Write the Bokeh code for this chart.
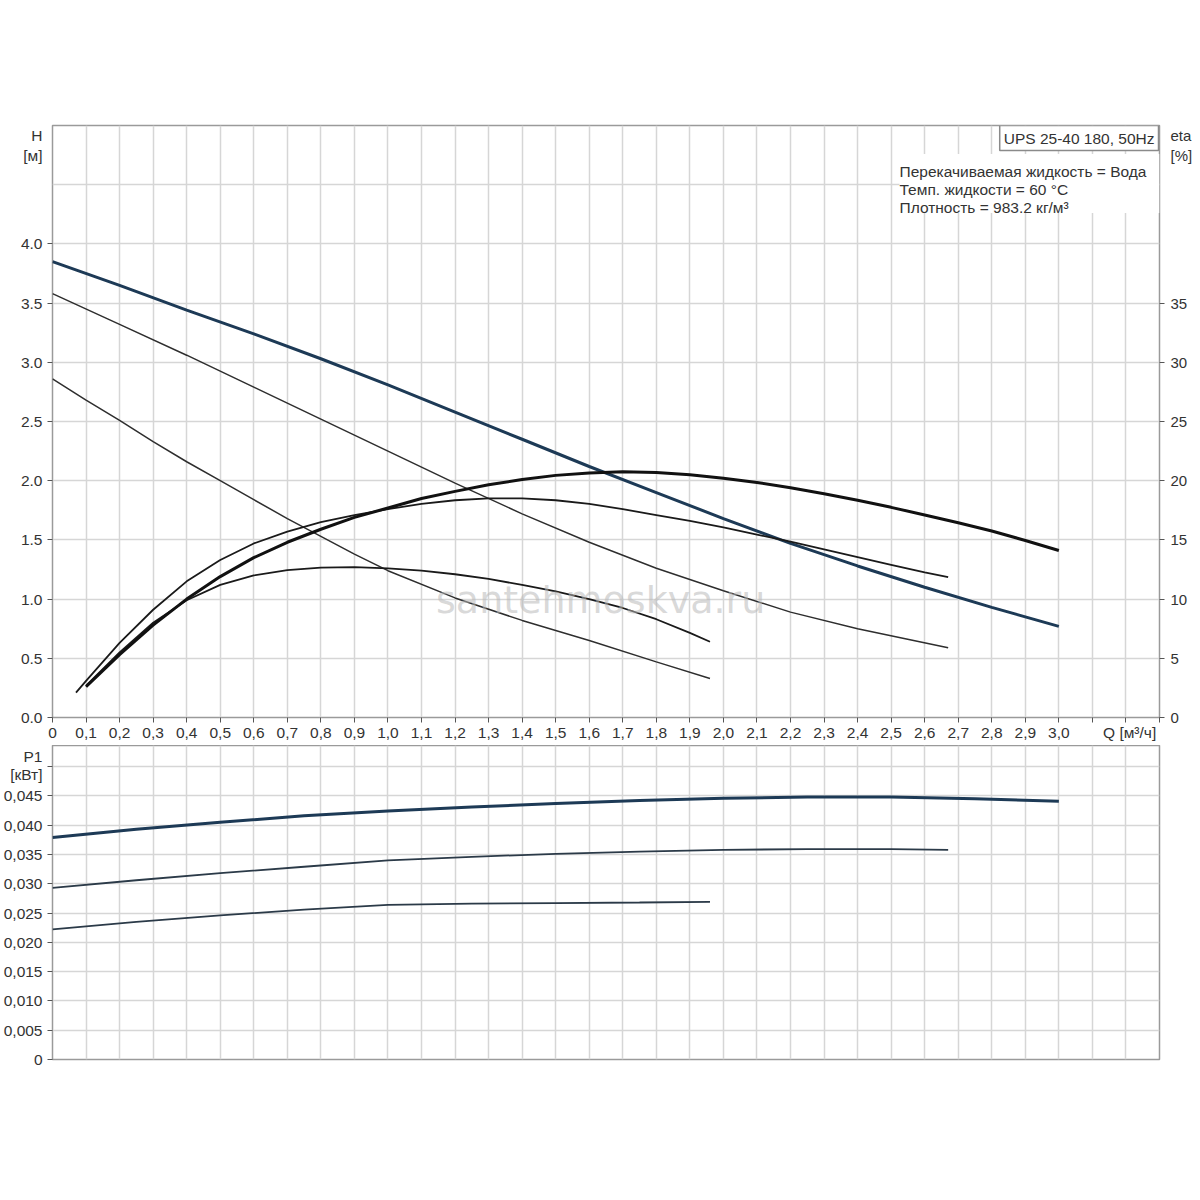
from bokeh.plotting import figure
from bokeh.models import (Range1d, LinearAxis, FixedTicker, CustomJSTickFormatter,
                          Label, BoxAnnotation)
from bokeh.layouts import column
from bokeh.embed import file_html
from bokeh.resources import INLINE

# ---------------- data ----------------
q_h3 = [0, 0.2, 0.4, 0.6, 0.8, 1.0, 1.2, 1.4, 1.6, 1.8, 2.0, 2.2, 2.4, 2.6, 2.8, 3.0]
h3 = [3.85, 3.65, 3.44, 3.24, 3.03, 2.81, 2.58, 2.35, 2.12, 1.90, 1.68, 1.47, 1.28, 1.10, 0.93, 0.77]

q_h2 = [0, 0.2, 0.4, 0.6, 0.8, 1.0, 1.2, 1.4, 1.6, 1.8, 2.0, 2.2, 2.4, 2.67]
h2 = [3.58, 3.32, 3.06, 2.79, 2.52, 2.25, 1.98, 1.72, 1.48, 1.26, 1.07, 0.89, 0.75, 0.59]

q_h1 = [0, 0.1, 0.2, 0.3, 0.4, 0.5, 0.6, 0.7, 0.8, 0.9, 1.0, 1.2, 1.4, 1.6, 1.8, 1.96]
h1 = [2.86, 2.68, 2.51, 2.33, 2.16, 2.00, 1.84, 1.68, 1.53, 1.38, 1.24, 1.01, 0.82, 0.65, 0.47, 0.33]

q_e3 = [0.1, 0.2, 0.3, 0.4, 0.5, 0.6, 0.7, 0.8, 0.9, 1.0, 1.1, 1.2, 1.3, 1.4, 1.5,
        1.6, 1.7, 1.8, 1.9, 2.0, 2.1, 2.2, 2.3, 2.4, 2.5, 2.6, 2.7, 2.8, 2.9, 3.0]
eta3 = [2.6, 5.3, 7.8, 10.0, 11.9, 13.5, 14.8, 15.9, 16.9, 17.7, 18.5, 19.1, 19.65, 20.1, 20.45,
        20.65, 20.75, 20.7, 20.5, 20.2, 19.85, 19.4, 18.9, 18.35, 17.75, 17.1, 16.45, 15.75, 14.95, 14.1]

q_e2 = [0.07, 0.1, 0.2, 0.3, 0.4, 0.5, 0.6, 0.7, 0.8, 0.9, 1.0, 1.1, 1.2, 1.3, 1.4,
        1.5, 1.6, 1.7, 1.8, 1.9, 2.0, 2.1, 2.2, 2.3, 2.4, 2.5, 2.6, 2.67]
eta2 = [2.1, 3.1, 6.3, 9.1, 11.5, 13.3, 14.7, 15.7, 16.5, 17.1, 17.6, 18.05, 18.35, 18.5, 18.5,
        18.35, 18.05, 17.6, 17.1, 16.6, 16.05, 15.45, 14.85, 14.2, 13.55, 12.9, 12.25, 11.85]

q_e1 = [0.1, 0.2, 0.3, 0.4, 0.5, 0.6, 0.7, 0.8, 0.9, 1.0, 1.1, 1.2, 1.3, 1.4, 1.5,
        1.6, 1.7, 1.8, 1.9, 1.96]
eta1 = [2.7, 5.5, 8.0, 9.9, 11.2, 12.0, 12.45, 12.65, 12.7, 12.6, 12.4, 12.1, 11.7, 11.2, 10.65,
        10.0, 9.25, 8.3, 7.15, 6.4]

q_p3 = [0, 0.25, 0.5, 0.75, 1.0, 1.25, 1.5, 1.75, 2.0, 2.25, 2.5, 2.75, 3.0]
p3 = [0.0379, 0.0393, 0.0405, 0.0416, 0.0424, 0.0431, 0.0437, 0.0442, 0.0446, 0.0448, 0.0448, 0.0445, 0.0441]

q_p2 = [0, 0.25, 0.5, 0.75, 1.0, 1.25, 1.5, 1.75, 2.0, 2.25, 2.5, 2.67]
p2v = [0.0293, 0.0306, 0.0318, 0.0329, 0.0340, 0.0346, 0.0351, 0.0355, 0.0358, 0.0359, 0.0359, 0.0358]

q_p1 = [0, 0.25, 0.5, 0.75, 1.0, 1.25, 1.5, 1.75, 1.96]
p1v = [0.0222, 0.0235, 0.0246, 0.0256, 0.0264, 0.0266, 0.0267, 0.0268, 0.0269]

q_ticks = [round(i * 0.1, 1) for i in range(34)]          # grid / tick marks
q_labeled = [round(i * 0.1, 1) for i in range(31)]        # 0 .. 3.0 labelled
h_ticks = [round(i * 0.5, 1) for i in range(9)]
h_grid = [round(i * 0.5, 1) for i in range(1, 10)]
eta_ticks = [0, 5, 10, 15, 20, 25, 30, 35]
p_ticks = [round(i * 0.005, 3) for i in range(11)]

q_title = "Q [м³/ч]"
h_title = ["H", "[м]"]
eta_title = ["eta", "[%]"]
p_title = ["P1", "[кВт]"]
title_box = "UPS 25-40 180, 50Hz"
info_lines = ["Перекачиваемая жидкость = Вода", "Темп. жидкости = 60 °C", "Плотность = 983.2 кг/м³"]
watermark = "santehmoskva.ru"

# title anchor positions (axis units)
Q_TITLE_AT = 3.211
H_TITLE_AT = [4.915, 4.747]
ETA_TITLE_AT = [49.15, 47.47]
P_TITLE_AT = [0.0517, 0.0486]

# ---------------- style ----------------
FONT = "Liberation Sans"
FS = "15.5px"
TXT = "#333333"
GRID = "#d6d6d6"
FRAME = "#9a9a9a"
NAVY = "#1d3a56"

def style_axis(ax, standoff, fs=FS):
    ax.axis_line_color = None
    ax.major_tick_out = 0
    ax.major_tick_in = 0
    ax.major_tick_line_color = None
    ax.minor_tick_line_color = "#555555"
    ax.minor_tick_out = 5
    ax.minor_tick_in = 0
    ax.major_label_text_font = FONT
    ax.major_label_text_font_size = fs
    ax.major_label_text_color = TXT
    ax.major_label_standoff = standoff

def lab(p, x, y, t, align="left", base="middle", **kw):
    p.add_layout(Label(x=x, y=y, text=t, text_align=align, text_baseline=base,
                       text_font=FONT, text_font_size=FS, text_color=TXT, **kw))

# ---------------- top chart ----------------
p = figure(frame_width=1107, frame_height=592, x_range=Range1d(0, 3.3), y_range=Range1d(0, 5),
           output_backend="svg", toolbar_location=None,
           min_border_left=51, min_border_top=125, min_border_bottom=28, min_border_right=36,
           background_fill_color="white", border_fill_color="white",
           outline_line_color=FRAME, outline_line_width=1.5)
p.extra_y_ranges = {"eta": Range1d(0, 50)}

p.xaxis.ticker = FixedTicker(ticks=q_labeled + [Q_TITLE_AT], minor_ticks=q_ticks)
p.xaxis.formatter = CustomJSTickFormatter(
    args=dict(t=q_title),
    code="if (tick > 3.15) return t; return Math.abs(tick) < 1e-9 ? '0' : tick.toFixed(1).replace('.', ',');")
style_axis(p.xaxis[0], 1)

p.yaxis.ticker = FixedTicker(ticks=h_ticks + H_TITLE_AT, minor_ticks=h_ticks)
p.yaxis.formatter = CustomJSTickFormatter(
    args=dict(t=h_title),
    code="if (tick > 4.85) return t[0]; if (tick > 4.6) return t[1]; return tick.toFixed(1);")
style_axis(p.yaxis[0], 5)

p.xgrid.ticker = FixedTicker(ticks=q_ticks)
p.ygrid.ticker = FixedTicker(ticks=h_grid)
for g in (p.xgrid[0], p.ygrid[0]):
    g.grid_line_color = GRID
    g.grid_line_width = 1.5

eta_axis = LinearAxis(y_range_name="eta",
                      ticker=FixedTicker(ticks=eta_ticks + ETA_TITLE_AT, minor_ticks=eta_ticks),
                      formatter=CustomJSTickFormatter(
                          args=dict(t=eta_title),
                          code="if (tick > 48.5) return t[0]; if (tick > 46) return t[1]; return tick.toFixed(0);"))
style_axis(eta_axis, 6, "15px")
p.add_layout(eta_axis, "right")

# curves
p.line(q_h1, h1, line_color="#2e2e2e", line_width=1.5)
p.line(q_h2, h2, line_color="#2e2e2e", line_width=1.5)
p.line(q_h3, h3, line_color=NAVY, line_width=3)
p.line(q_e1, eta1, y_range_name="eta", line_color="#1a1a1a", line_width=1.8)
p.line(q_e2, eta2, y_range_name="eta", line_color="#1a1a1a", line_width=1.8)
p.line(q_e3, eta3, y_range_name="eta", line_color="#111111", line_width=3)

# info box
p.add_layout(BoxAnnotation(left=2.525, right=3.3, top=4.76, bottom=4.26,
                           fill_color="white", fill_alpha=1.0, line_color=None))
p.add_layout(Label(x=3.3, y=5.0, text=title_box, text_align="right", text_baseline="top",
                   text_font=FONT, text_font_size=FS, text_color=TXT,
                   x_offset=-1, y_offset=0, padding=4,
                   background_fill_color="white", border_line_color="#8a8a8a",
                   border_line_width=1.5))
for i, t in enumerate(info_lines):
    lab(p, 2.525, 4.615 - i * 0.155, t)

# watermark
p.add_layout(Label(x=1.634, y=0.99, text=watermark, text_align="center",
                   text_baseline="alphabetic", text_font="DejaVu Sans", text_font_size="38px",
                   text_color="#b8b8b8", text_alpha=0.55))

# ---------------- bottom chart ----------------
b = figure(frame_width=1107, frame_height=314, x_range=p.x_range, y_range=Range1d(0, 0.0536),
           output_backend="svg", toolbar_location=None,
           min_border_left=51, min_border_top=0, min_border_bottom=12, min_border_right=36,
           background_fill_color="white", border_fill_color="white",
           outline_line_color=FRAME, outline_line_width=1.5)
b.xaxis.visible = False
b.yaxis.ticker = FixedTicker(ticks=p_ticks + P_TITLE_AT, minor_ticks=p_ticks)
b.yaxis.formatter = CustomJSTickFormatter(
    args=dict(t=p_title),
    code="if (Math.abs(tick) < 1e-9) return '0'; if (tick > 0.051) return t[0]; "
         "if (tick > 0.0481 && tick < 0.0495) return t[1]; if (tick > 0.0475) return ''; "
         "return tick.toFixed(3).replace('.', ',');")
style_axis(b.yaxis[0], 5)
b.xgrid.ticker = FixedTicker(ticks=q_ticks)
b.ygrid.ticker = FixedTicker(ticks=p_ticks[1:])
for g in (b.xgrid[0], b.ygrid[0]):
    g.grid_line_color = GRID
    g.grid_line_width = 1.5

b.line(q_p1, p1v, line_color="#2b3a48", line_width=1.8)
b.line(q_p2, p2v, line_color="#2b3a48", line_width=1.8)
b.line(q_p3, p3, line_color=NAVY, line_width=3)

layout = column(p, b, spacing=0)
open("out.html", "w", encoding="utf-8").write(file_html(layout, INLINE))
